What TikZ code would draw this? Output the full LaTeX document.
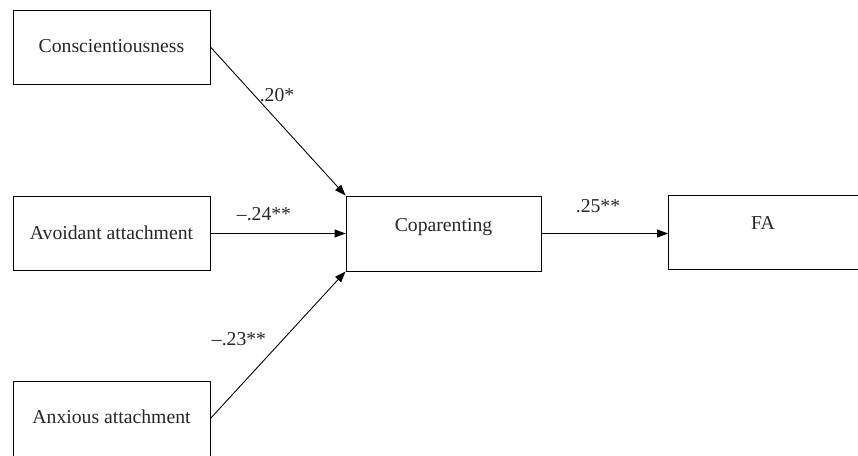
\documentclass[tikz,border=0pt]{standalone}
\usepackage{fontspec}
\setmainfont{Liberation Serif}
\usetikzlibrary{arrows.meta}
\begin{document}
\begin{tikzpicture}[x=1pt,y=-1pt,
  box/.style={draw, line width=0.9pt, rectangle, inner sep=0pt, minimum width=197pt, minimum height=74pt},
  txt/.style={anchor=base, inner sep=0pt, text=black!85, font=\fontsize{19.7pt}{23pt}\selectfont},
  lbl/.style={inner sep=0pt, text=black!85, font=\fontsize{19.7pt}{23pt}\selectfont},
  conn/.style={line width=0.9pt, -{Triangle[length=11pt,width=8pt]}}]
\useasboundingbox (0,0) rectangle (858,455);
\node[box] (c) at (111.5,47) {};
\node[box] (av) at (111.5,233.5) {};
\node[box, minimum height=78pt] (ax) at (111.5,420) {};
\node[box, minimum width=195pt, minimum height=75pt] (co) at (443.5,233.5) {};
\node[box, minimum width=195pt, minimum height=74pt] (fa) at (766,232) {};
\node[txt] (tc) at (111.5,52) {Conscientiousness};
\node[txt] (tav) at (111.5,239) {Avoidant attachment};
\node[txt] (tax) at (111.5,423) {Anxious attachment};
\node[txt] (tco) at (443.5,231) {Coparenting};
\node[txt] (tfa) at (763,229) {FA};
\draw[conn] (c.east) -- (co.north west);
\draw[conn] (av.east) -- (co.west |- av.east);
\draw[conn] (ax.east) ++(0,-1.5) coordinate (axe) (axe) -- (co.south west);
\draw[conn] (co.east |- av.east) -- (fa.west |- av.east);
\node[lbl] (l1) at (277,95) {.20*};
\node[lbl] (l2) at (264,214) {–.24**};
\node[lbl] (l3) at (239,339) {–.23**};
\node[lbl] (l4) at (598,206) {.25**};
\end{tikzpicture}
\end{document}
